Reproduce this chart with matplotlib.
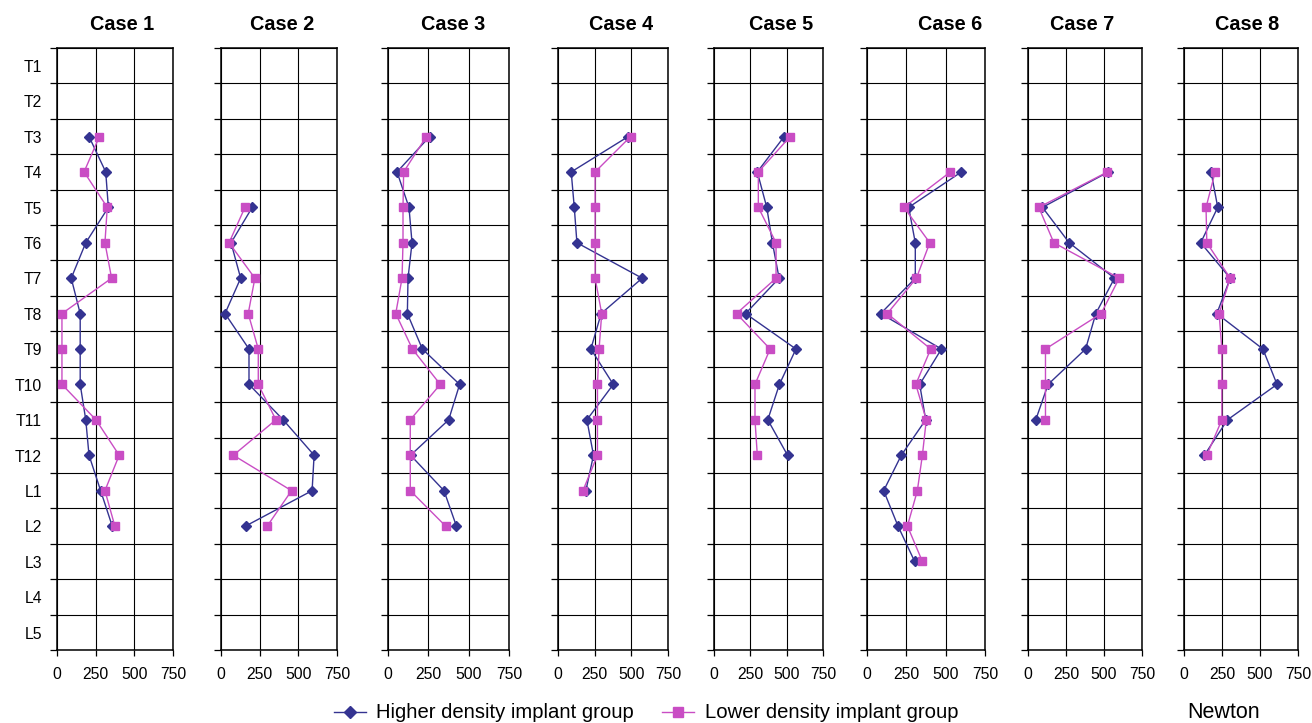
import numpy as np
import matplotlib
matplotlib.use("Agg")
import matplotlib.pyplot as plt
from matplotlib.lines import Line2D

plt.rcParams['font.family'] = ['Liberation Sans', 'DejaVu Sans']

# ---------------- data ----------------
rows = ['T1', 'T2', 'T3', 'T4', 'T5', 'T6', 'T7', 'T8', 'T9',
        'T10', 'T11', 'T12', 'L1', 'L2', 'L3', 'L4', 'L5']
x_ticks = [0, 250, 500, 750]
titles = ['Case 1', 'Case 2', 'Case 3', 'Case 4',
          'Case 5', 'Case 6', 'Case 7', 'Case 8']

# first level (row label) of each case's series
case_start = ['T3', 'T5', 'T3', 'T3', 'T3', 'T4', 'T4', 'T4']

case1_high = [207, 315, 332, 186, 92, 150, 150, 150, 186, 207, 282, 357]
case1_low = [274, 175, 325, 310, 353, 32, 32, 32, 252, 402, 310, 374]

case2_high = [202, 65, 127, 26, 181, 181, 402, 602, 589, 159]
case2_low = [155, 52, 219, 176, 241, 241, 355, 80, 456, 299]

case3_high = [258, 56, 130, 149, 124, 120, 213, 444, 376, 140, 347, 424]
case3_low = [238, 97, 93, 93, 87, 48, 151, 324, 138, 138, 138, 357]

case4_high = [479, 90, 111, 129, 574, 294, 224, 377, 197, 242, 190]
case4_low = [495, 253, 253, 253, 253, 298, 280, 269, 269, 269, 170]

case5_high = [483, 298, 363, 402, 448, 217, 564, 450, 370, 506]
case5_low = [524, 305, 305, 427, 427, 155, 386, 282, 282, 298]

case6_high = [600, 265, 307, 307, 87, 473, 335, 373, 218, 106, 197, 303]
case6_low = [530, 235, 399, 314, 129, 405, 310, 377, 352, 320, 257, 352]

case7_high = [529, 95, 271, 569, 446, 379, 132, 51]
case7_low = [523, 71, 170, 600, 481, 115, 115, 115]

case8_high = [178, 222, 110, 304, 216, 519, 612, 286, 134]
case8_low = [205, 145, 150, 304, 231, 249, 249, 249, 150]

high_series = [case1_high, case2_high, case3_high, case4_high,
               case5_high, case6_high, case7_high, case8_high]
low_series = [case1_low, case2_low, case3_low, case4_low,
              case5_low, case6_low, case7_low, case8_low]

legend_labels = ['Higher density implant group', 'Lower density implant group']
source_note = 'Newton'

# ---------------- style ----------------
BLUE = '#343391'
PINK = '#C94DC4'
W, H = 1312, 723
# axes pixel extents (left, right)
ax_px = [(57, 173), (221, 337), (388, 509), (558, 668),
         (714, 823), (867, 985), (1028, 1142), (1184, 1298)]
title_px = [122, 282, 453, 621, 781, 950, 1082, 1247]
top_px, bot_px = 48, 650

fig = plt.figure(figsize=(W / 100, H / 100), dpi=100)
fig.patch.set_facecolor('white')

nrows = len(rows)
for i in range(8):
    l, r = ax_px[i]
    ax = fig.add_axes([l / W, 1 - bot_px / H, (r - l) / W, (bot_px - top_px) / H])
    ax.set_xlim(0, 750)
    ax.set_ylim(nrows, 0)
    ax.set_xticks(x_ticks)
    ax.set_xticklabels([str(t) for t in x_ticks], fontsize=11.3)
    ax.set_yticks(np.arange(nrows + 1))
    ax.set_yticklabels([])
    ax.tick_params(axis='y', length=5, width=0.9, direction='out', color='black')
    ax.tick_params(axis='x', length=4, width=0.9, direction='out', pad=8, color='black')
    ax.grid(True, color='black', linewidth=0.8)
    ax.set_axisbelow(True)
    for s in ax.spines.values():
        s.set_linewidth(1.1)
        s.set_color('black')

    start = rows.index(case_start[i])
    hv = high_series[i]
    lv = low_series[i]
    yh = np.arange(start, start + len(hv)) + 0.5
    yl = np.arange(start, start + len(lv)) + 0.5
    ax.plot(hv, yh, color=BLUE, marker='D', markersize=5.5, linewidth=1.0,
            markeredgecolor=BLUE, clip_on=False, zorder=3)
    ax.plot(lv, yl, color=PINK, marker='s', markersize=5.5, linewidth=1.0,
            markeredgecolor=PINK, clip_on=False, zorder=4)

    fig.text(title_px[i] / W, 1 - 25 / H, titles[i], ha='center', va='center',
             fontsize=14.3, fontweight='bold')

    if i == 0:
        for k, lab in enumerate(rows):
            ax.text(-0.13, 1 - (k + 0.55) / nrows, lab, transform=ax.transAxes,
                    ha='right', va='center', fontsize=11.3)

# ---------------- legend ----------------
ly = 1 - 712 / H
fig.add_artist(Line2D([334 / W, 366 / W], [ly, ly], color=BLUE, linewidth=1.0))
fig.add_artist(Line2D([350 / W], [ly], color=BLUE, marker='D', markersize=6.5,
                      linestyle='none'))
fig.text(376 / W, ly, legend_labels[0], ha='left', va='center', fontsize=14.6)
fig.add_artist(Line2D([662 / W, 694 / W], [ly, ly], color=PINK, linewidth=1.0))
fig.add_artist(Line2D([678 / W], [ly], color=PINK, marker='s', markersize=7,
                      linestyle='none'))
fig.text(705 / W, ly, legend_labels[1], ha='left', va='center', fontsize=14.6)
fig.text(1187 / W, ly, source_note, ha='left', va='center', fontsize=15.5)

fig.savefig('out.png', dpi=100, facecolor='white')
